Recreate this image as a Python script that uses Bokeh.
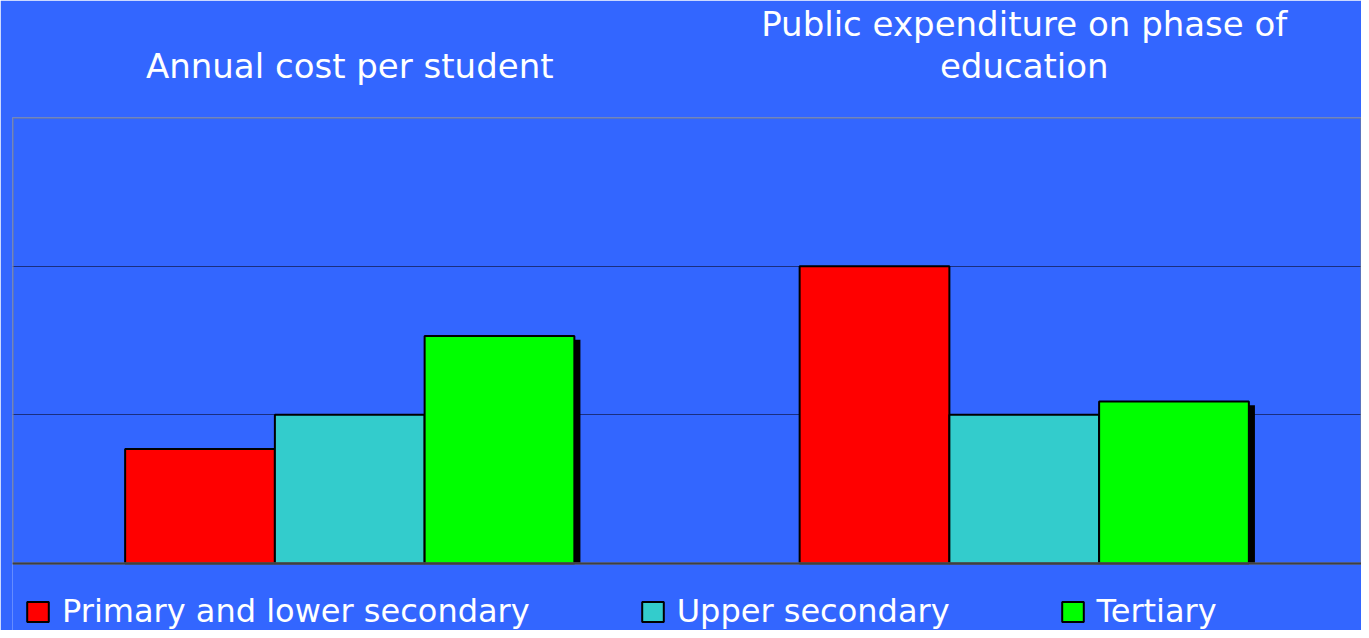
from bokeh.plotting import figure
from bokeh.models import (FactorRange, Legend, LegendItem, ColumnDataSource,
                          FixedTicker, Span, BoxAnnotation)
from bokeh.transform import dodge
from bokeh.embed import file_html
from bokeh.resources import INLINE

groups = ["Annual cost per student", "Public expenditure on phase of\neducation"]
series = ["Primary and lower secondary", "Upper secondary", "Tertiary"]
primary = [0.77, 2.0]
upper = [1.0, 1.0]
tertiary = [1.53, 1.09]
colors = ["#FF0000", "#33CCCC", "#00FF00"]
y_ticks = [0, 1, 2, 3]
y_min, y_max = 0, 3

BG = "#3366FF"
FONT = "DejaVu Sans"

src = ColumnDataSource(dict(group=groups, primary=primary, upper=upper, tertiary=tertiary))

# the frame reaches down to the bottom edge so that the legend can sit inside it,
# below the value axis (the value area 0..3 occupies the upper 446 px)
plot_h = 446
legend_h = 67
y_start = y_min - (y_max - y_min) * legend_h / plot_h

p = figure(x_range=FactorRange(factors=groups), y_range=(y_start, y_max),
           frame_width=1349, frame_height=plot_h + legend_h,
           output_backend="svg", toolbar_location=None,
           x_axis_location="above",
           background_fill_color=BG, border_fill_color=BG,
           min_border_left=12, min_border_right=0, min_border_top=117, min_border_bottom=0,
           outline_line_color=None)

bw = 0.222
off = 0.222

p.xgrid.grid_line_color = None
p.ygrid.ticker = FixedTicker(ticks=y_ticks)
p.ygrid.grid_line_color = "#1a2f80"
p.ygrid.grid_line_width = 1

# plot-area border
p.add_layout(BoxAnnotation(bottom=y_min, top=y_max, fill_alpha=0,
                           line_color="#808080", line_alpha=1.0, line_width=2))

# drop shadow of the last series
p.vbar(x=dodge("group", off + 0.009, range=p.x_range), top=dodge("tertiary", -0.025),
       bottom=0, width=bw, source=src, fill_color="black", line_color=None)

r1 = p.vbar(x=dodge("group", -off, range=p.x_range), top="primary", bottom=0, width=bw,
            source=src, fill_color=colors[0], line_color="black", line_width=2)
r2 = p.vbar(x=dodge("group", 0, range=p.x_range), top="upper", bottom=0, width=bw,
            source=src, fill_color=colors[1], line_color="black", line_width=2)
r3 = p.vbar(x=dodge("group", off, range=p.x_range), top="tertiary", bottom=0, width=bw,
            source=src, fill_color=colors[2], line_color="black", line_width=2)

p.add_layout(Span(location=y_min, dimension="width", line_color="#404040", line_width=2))

xa = p.xaxis[0]
xa.major_label_text_font = FONT
xa.major_label_text_font_size = "34px"
xa.major_label_text_line_height = 1.05
xa.major_label_text_color = "white"
xa.axis_line_color = None
xa.major_tick_line_color = None
xa.minor_tick_line_color = None
xa.major_tick_out = 0
xa.major_label_standoff = 32

p.yaxis.visible = False

legend = Legend(items=[LegendItem(label=series[0], renderers=[r1]),
                       LegendItem(label=series[1], renderers=[r2]),
                       LegendItem(label=series[2], renderers=[r3])],
                orientation="horizontal", location=(12, 0),
                spacing=109, glyph_width=27, glyph_height=25, label_standoff=11,
                label_text_font=FONT, label_text_font_size="32px", label_text_color="white",
                background_fill_alpha=0, border_line_alpha=0, margin=0, padding=0)
p.add_layout(legend)

open("out.html", "w").write(file_html(p, INLINE))
